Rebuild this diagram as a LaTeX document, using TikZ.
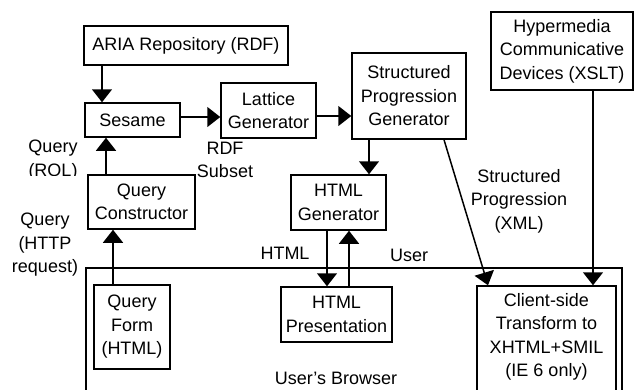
\documentclass[tikz,border=0pt]{standalone}
\usepackage{fontspec}
\setmainfont{Liberation Sans}
\usetikzlibrary{arrows.meta}
\begin{document}
\begin{tikzpicture}[x=1pt,y=-1pt,
  every node/.style={font=\fontsize{18}{23.5}\selectfont, align=center, inner sep=0pt},
  box/.style 2 args={draw, line width=1.5pt, minimum width=#1pt, minimum height=#2pt},
  conn/.style={line width=1.5pt},
  arr/.style={line width=1.5pt, -{Triangle[width=20pt,length=13pt]}}]
\useasboundingbox (0,0) rectangle (636,389);
% browser region
\node[box={536}{140}] (browser) at (354,338) {};
\node (browserlbl) at (336,378) {User's Browser};
% boxes
\node[box={204}{39}] (aria) at (186,45.5) {ARIA Repository (RDF)};
\node[box={95}{34}] (sesame) at (132.5,120) {Sesame};
\node[box={95}{55}] (lattice) at (268.5,110.5) {Lattice\\Generator};
\node[box={114}{86}] (spg) at (409,96) {Structured\\Progression\\Generator};
\node[box={142}{78}] (hyper) at (562,51) {Hypermedia\\Communicative\\Devices (XSLT)};
\node[box={107}{54}] (qc) at (141.5,202) {Query\\Constructor};
\node[box={95}{55}] (htmlgen) at (338.5,202.5) {HTML\\Generator};
\node[box={111}{55}] (htmlpres) at (336.5,314.5) {HTML\\Presentation};
\node[box={76}{84}] (qform) at (132,327) {Query\\Form\\(HTML)};
\node[box={139}{110}] (client) at (546.5,341) {};
\node (clientlbl) at (546.5,337) {Client-side\\Transform to\\XHTML+SMIL\\(IE 6 only)};
% labels
\begin{scope}
\clip (0,125) rectangle (86,175);
\node (lrql) at (53,160) {Query\\(RQL)};
\end{scope}
\node (lrdf) at (225,160) {RDF\\Subset};
\node (lhttp) at (45,245) {Query\\(HTTP\\request)};
\node (lhtml) at (285,253) {HTML};
\node (luser) at (409,255) {User};
\node (lsp) at (519,201) {Structured\\Progression\\(XML)};
% connectors
\draw[arr] (aria.south -| 102,0) -- (sesame.north -| 102,0);
\draw[arr] (sesame.east |- 0,117) -- (lattice.west |- 0,117);
\draw[arr] (lattice.east |- 0,116) -- (spg.west |- 0,116);
\draw[arr] (qc.north -| 106,0) -- (sesame.south -| 106,0);
\draw[arr] (qform.north -| 113,0) -- (qc.south -| 113,0);
\draw[arr] (spg.south -| 369,0) -- (htmlgen.north -| 369,0);
\draw[arr] (htmlgen.south -| 327,0) -- (htmlpres.north -| 327,0);
\draw[arr] (htmlpres.north -| 349,0) -- (htmlgen.south -| 349,0);
\draw[arr] (spg.south -| 444,0) -- (client.north -| 488,0);
\draw[arr] (hyper.south -| 593,0) -- (client.north -| 593,0);
\end{tikzpicture}
\end{document}
